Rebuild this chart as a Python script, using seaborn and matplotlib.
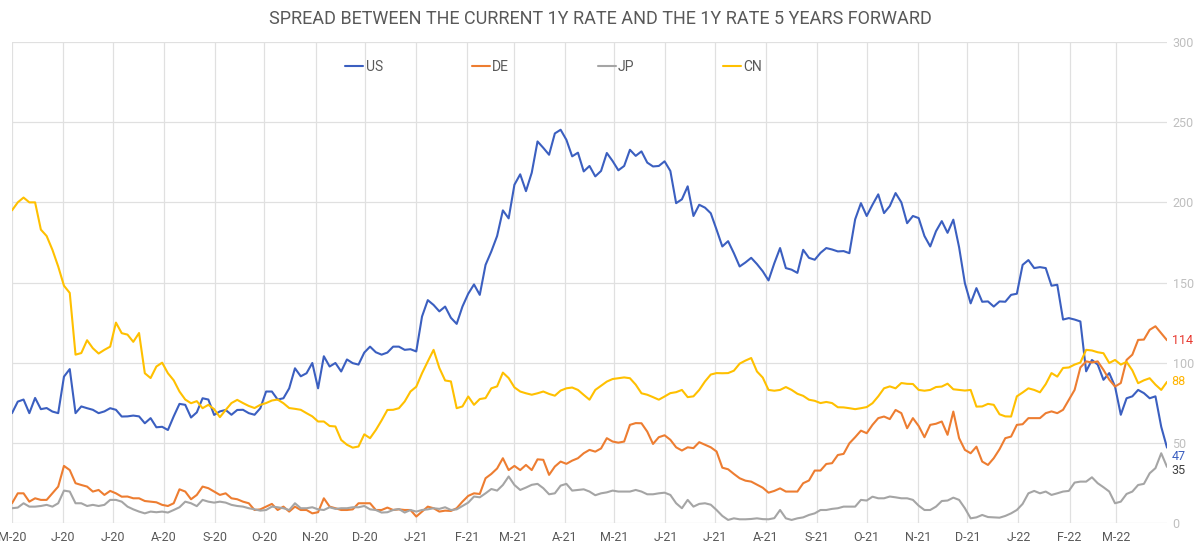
import numpy as np
import pandas as pd
import seaborn as sns
import matplotlib.pyplot as plt
import matplotlib.dates as mdates
from matplotlib.ticker import FuncFormatter

# readings every 3.5 days, 2020-05-01 .. 2022-04-01
# *_wk = readings on the weekly points, *_mid = readings half a week later
dates = pd.date_range("2020-05-01", periods=201, freq="84h")

us_wk = [68.5, 77, 78, 71.7, 68.5, 96, 72.7, 70.6, 69.6, 70.6,
         66.5, 66.5, 65.4, 60, 66.5, 73.7, 69, 77, 69.6, 67.5,
         70.6, 67.5, 82, 77, 84, 91.5, 99.8, 104, 99.8, 102,
         98.8, 110, 105, 110, 108, 107, 139, 132, 128, 135,
         148.8, 161, 179, 190, 217.5, 218.5, 234, 243, 239, 231,
         222.7, 219.6, 225.8, 222.7, 229, 224.8, 222.7, 219.6, 201.9, 191.5,
         196.7, 183, 175.8, 160, 165.4, 157, 162, 159, 156, 165.4,
         168.5, 170.6, 169.6, 189.4, 191.5, 205, 197.7, 200, 191.5, 179,
         182, 181, 172, 137, 138, 135, 138, 143, 164, 159.6,
         148, 126.9, 126.9, 94.6, 98.8, 93.5, 67.5, 79, 81, 79,
         47]
us_mid = [75.7, 68.5, 71, 69.5, 91.3, 68.5, 71.6, 68.5, 71.6, 66.4,
          67, 62.2, 59.7, 58, 74.3, 65.8, 77.8, 67.4, 70.5, 70.5,
          68.5, 71.6, 82, 77.8, 96.5, 93.4, 84, 97.6, 94.5, 99.7,
          106.3, 106.5, 106.3, 110, 108.4, 128.8, 136, 135, 124.2, 143,
          142.3, 169.4, 195, 211, 207, 238, 229.7, 245.3, 228.7, 219.3,
          216.2, 230.8, 220, 232.8, 231.8, 222.4, 225.6, 199.5, 210, 198.5,
          193.2, 172.5, 168.3, 162.5, 161.5, 151.3, 171.5, 158, 170.4, 164.2,
          171.5, 169.4, 168.3, 199.5, 198.5, 193.3, 205.8, 187, 190.2, 172.5,
          188.3, 189.2, 149.6, 146.5, 138.2, 138.2, 142.3, 161, 159, 159,
          148.6, 127.8, 125.7, 101.7, 89.3, 85.1, 77.8, 83, 77.8, 60]

de_wk = [12.3, 18.5, 15.4, 14.4, 22.7, 33, 23.7, 19.6, 17.5, 18.5,
         16.5, 15.4, 13.3, 11.3, 12.3, 19.6, 17.5, 21.7, 17.5, 15.4,
         13.3, 8.1, 10.2, 8.1, 7.1, 8.1, 6, 15.4, 9.2, 8.1,
         12.3, 12.3, 8.1, 8.1, 8.1, 4, 10.2, 7.1, 7.5, 13.3,
         18.5, 27.9, 34, 33, 33, 33, 39.4, 35.2, 36.9, 40.4,
         45.6, 46.5, 50.8, 50.8, 62.3, 57, 53.5, 51.9, 45.2, 46.7,
         48.8, 44.6, 33.5, 27.9, 25.8, 22, 20, 19.6, 19.6, 26.5,
         32.7, 37.3, 43.1, 53.5, 56, 65.4, 64.8, 68.5, 65.4, 53.5,
         61.9, 55, 52.9, 43.5, 38.3, 40.4, 52.9, 61.2, 65.4, 65.4,
         69.6, 70.6, 83, 100.8, 100.8, 89.4, 87.3, 105, 114.4, 122.7,
         114]
de_mid = [18.5, 13.3, 14.4, 18.5, 35.6, 24.8, 22.7, 20.6, 20, 16.4,
          15.4, 13.7, 12.9, 10.6, 21, 14.8, 22.7, 19.6, 18.5, 14.8,
          12.3, 8.5, 11.9, 10.2, 10.2, 8.1, 6.7, 10.2, 8.1, 8.5,
          12.3, 8.1, 9.6, 8.5, 8.1, 7.1, 9.2, 7.7, 9.2, 16.9,
          18.1, 30.6, 40.4, 35.6, 36.2, 39.7, 30, 38.3, 38.9, 43.5,
          44.5, 52.9, 50.1, 61.2, 62.2, 49.3, 54.7, 47.2, 47.2, 50.4,
          47.2, 34.5, 30.6, 26.4, 23.9, 18.9, 21.6, 19.6, 24.8, 32.7,
          36.8, 42.4, 49.7, 57.6, 61.2, 66.4, 70.5, 59.1, 60.5, 61.2,
          63.3, 69.5, 45.6, 47.6, 36.2, 46, 53.9, 61.6, 65.4, 68.5,
          68.5, 76.8, 97, 100.1, 95.5, 85.1, 101.7, 114.2, 120.5, 118.4]

jp_wk = [9.2, 12.3, 10.2, 11.3, 12.3, 19.6, 12.3, 11.3, 11.3, 14.4,
         10.2, 7.1, 7.1, 7.1, 8.1, 13.3, 10.5, 13.3, 13.3, 11.3,
         10.2, 8.5, 8.1, 9.8, 8.1, 9.2, 9.8, 8.1, 8.8, 9.2,
         9.8, 8.5, 6.5, 8.1, 6.5, 7.1, 8.5, 8.8, 8.1, 10.6,
         16.5, 18.5, 20.2, 29, 20.6, 23.8, 21.7, 18.5, 24.4, 20.6,
         19.6, 18.5, 20.2, 19.6, 20.6, 17.9, 18.5, 17.5, 9.2, 10.2,
         12.3, 8.1, 1.9, 2.3, 2.5, 2.4, 3, 2.9, 2.9, 5,
         8.1, 8.8, 10.2, 10.2, 14, 15.4, 16.5, 15.4, 14.4, 8.1,
         10.2, 14, 14.4, 2.9, 5, 3.5, 4.4, 8.1, 18.5, 18.5,
         17.5, 19.6, 25.2, 25.8, 24.8, 19.6, 13.3, 19.6, 24.4, 34.2,
         35]
jp_mid = [9.6, 10.2, 10.6, 10.2, 20.2, 12.3, 10.6, 10.6, 14.4, 13.3,
          8.5, 6, 6.7, 6.5, 9.8, 12.3, 14.4, 12.7, 12.7, 10.6,
          9.2, 7.7, 10.2, 9.2, 12.3, 9.2, 8.5, 9.8, 9.2, 9.8,
          10.6, 8.1, 6.7, 8.7, 8.1, 8.1, 9.2, 9.8, 8.5, 12.7,
          16, 21.2, 23.7, 23.7, 22.1, 24.4, 17.9, 23.3, 20.2, 21,
          17.3, 19.1, 19.6, 19.6, 19.6, 17.9, 18.9, 12.3, 14.4, 11.9,
          11.4, 4.4, 2.9, 2.3, 2.9, 2.3, 8.1, 1.9, 3.5, 6,
          8.1, 9.2, 10.2, 14.4, 16.4, 15.4, 16, 15.4, 10.8, 8.1,
          13.7, 15.8, 9.2, 3.5, 3.7, 3.3, 6, 11.9, 20, 19.6,
          18.5, 20, 25.8, 28.5, 22.3, 12.3, 18.1, 23.7, 31, 43.5]

cn_wk = [195, 203, 200, 179, 160, 143.5, 106, 109, 108, 125,
         117.5, 118.5, 90.4, 100, 89, 77, 76, 73.7, 66, 74.8,
         74.8, 71.7, 74.8, 77, 71.7, 70.6, 66.5, 63.3, 60.2, 48.8,
         47.7, 52.9, 64, 70.6, 75.8, 85, 100.8, 96.7, 88.3, 72.7,
         73.7, 77.9, 85.2, 90.4, 82, 80, 82, 79.4, 84, 83,
         76.9, 85.6, 89.8, 90.8, 86.3, 80, 76.9, 81, 83, 79,
         88.3, 93.5, 93.5, 99.4, 102.9, 90.7, 82.5, 84.8, 80.6, 76.9,
         74.8, 74.8, 72.1, 71, 72.3, 79, 85.2, 87.3, 86.7, 82.5,
         84.8, 86.9, 83, 83, 72.7, 73.7, 66.5, 79, 84, 81.5,
         93.5, 96.7, 98.8, 108, 106.5, 99.8, 98.8, 95.2, 89, 86.3,
         88]
cn_mid = [200, 200, 183, 170.4, 148, 105, 114, 105.7, 110, 118.4,
          113, 93.4, 97.6, 93.4, 82, 74.7, 71.6, 71, 70.5, 76.8,
          73, 73.7, 76.4, 74.7, 71.2, 68.5, 63.3, 60.5, 51.8, 47,
          55.3, 58, 70.5, 71.6, 82, 93.4, 108, 88.9, 71.6, 78.9,
          77.3, 84, 93.8, 84.6, 80.9, 80.9, 80.5, 82.6, 84.5, 79.9,
          83, 88.2, 90.3, 90.3, 80.9, 78.5, 78.9, 81.6, 78.5, 83,
          92.6, 93.4, 95, 101.3, 94.5, 83, 83, 83, 79.3, 76.2,
          75.5, 72.2, 71.6, 71.6, 74.7, 84, 84, 86.8, 83, 83,
          85.1, 83.4, 82.6, 72.6, 74.3, 67.8, 66.4, 81.4, 83, 86.6,
          91.3, 97, 100.1, 107.6, 105.9, 101.7, 100.5, 87.2, 90.3, 83]


def interleave(wk, mid):
    out = np.empty(len(wk) + len(mid))
    out[0::2] = wk
    out[1::2] = mid
    return out


series = ["US", "DE", "JP", "CN"]
colors = {"US": "#3b5fc0", "DE": "#ed7d31", "JP": "#a5a5a5", "CN": "#ffc000"}
end_colors = {"US": "#3b5fc0", "DE": "#e8382f", "JP": "#404040", "CN": "#ffb400"}
# small vertical nudge of the end labels (in data units) so 47 clears the 50 tick
end_nudge = {"US": -5.5, "DE": 0, "JP": -2.5, "CN": 0}

df = pd.DataFrame({"date": dates,
                   "US": interleave(us_wk, us_mid),
                   "DE": interleave(de_wk, de_mid),
                   "JP": interleave(jp_wk, jp_mid),
                   "CN": interleave(cn_wk, cn_mid)})
long = df.melt(id_vars="date", var_name="country", value_name="spread")

sns.set_style("whitegrid")
plt.rcParams["font.family"] = ["Roboto", "DejaVu Sans"]

fig = plt.figure(figsize=(12, 5.49), dpi=100)
ax = fig.add_axes([0.01, 0.0474, 0.9625, 0.876])

sns.lineplot(data=long, x="date", y="spread", hue="country", hue_order=series,
             palette=colors, linewidth=1.5, ax=ax)

ax.set_ylim(0, 300)
ax.set_xlim(pd.Timestamp("2020-05-01"), pd.Timestamp("2022-04-01"))
ax.set_yticks(range(0, 301, 50))
ax.yaxis.tick_right()
ax.tick_params(axis="y", colors="#bfbfbf", labelsize=9, pad=4, length=0)
ax.tick_params(axis="x", colors="#595959", labelsize=9, pad=6, length=0)

months = pd.date_range("2020-05-01", "2022-03-01", freq="MS")
ax.set_xticks(months)
ax.xaxis.set_major_formatter(FuncFormatter(
    lambda v, p: mdates.num2date(v).strftime("%b")[0] + "-" + mdates.num2date(v).strftime("%y")))
ax.grid(True, color="#e0e0e0", linewidth=0.9)
for s in ax.spines.values():
    s.set_visible(False)
ax.set_xlabel("")
ax.set_ylabel("")

leg = ax.legend(loc="center", bbox_to_anchor=(0.469, 0.948), ncol=4, frameon=False,
                handlelength=1.3, handletextpad=0.15, columnspacing=6.4, fontsize=10,
                labelcolor="#595959")
for h in leg.get_lines():
    h.set_linewidth(1.5)

for name in series:
    v = df[name].iloc[-1]
    ax.text(1.004, (v + end_nudge[name]) / 300, f"{v:.0f}", transform=ax.transAxes,
            color=end_colors[name], fontsize=9, va="center", ha="left")

fig.text(0.5, 0.965, "SPREAD BETWEEN THE CURRENT 1Y RATE AND THE 1Y RATE 5 YEARS FORWARD",
         ha="center", va="center", fontsize=13, color="#595959")

fig.savefig("out.png", dpi=100, facecolor="white")
